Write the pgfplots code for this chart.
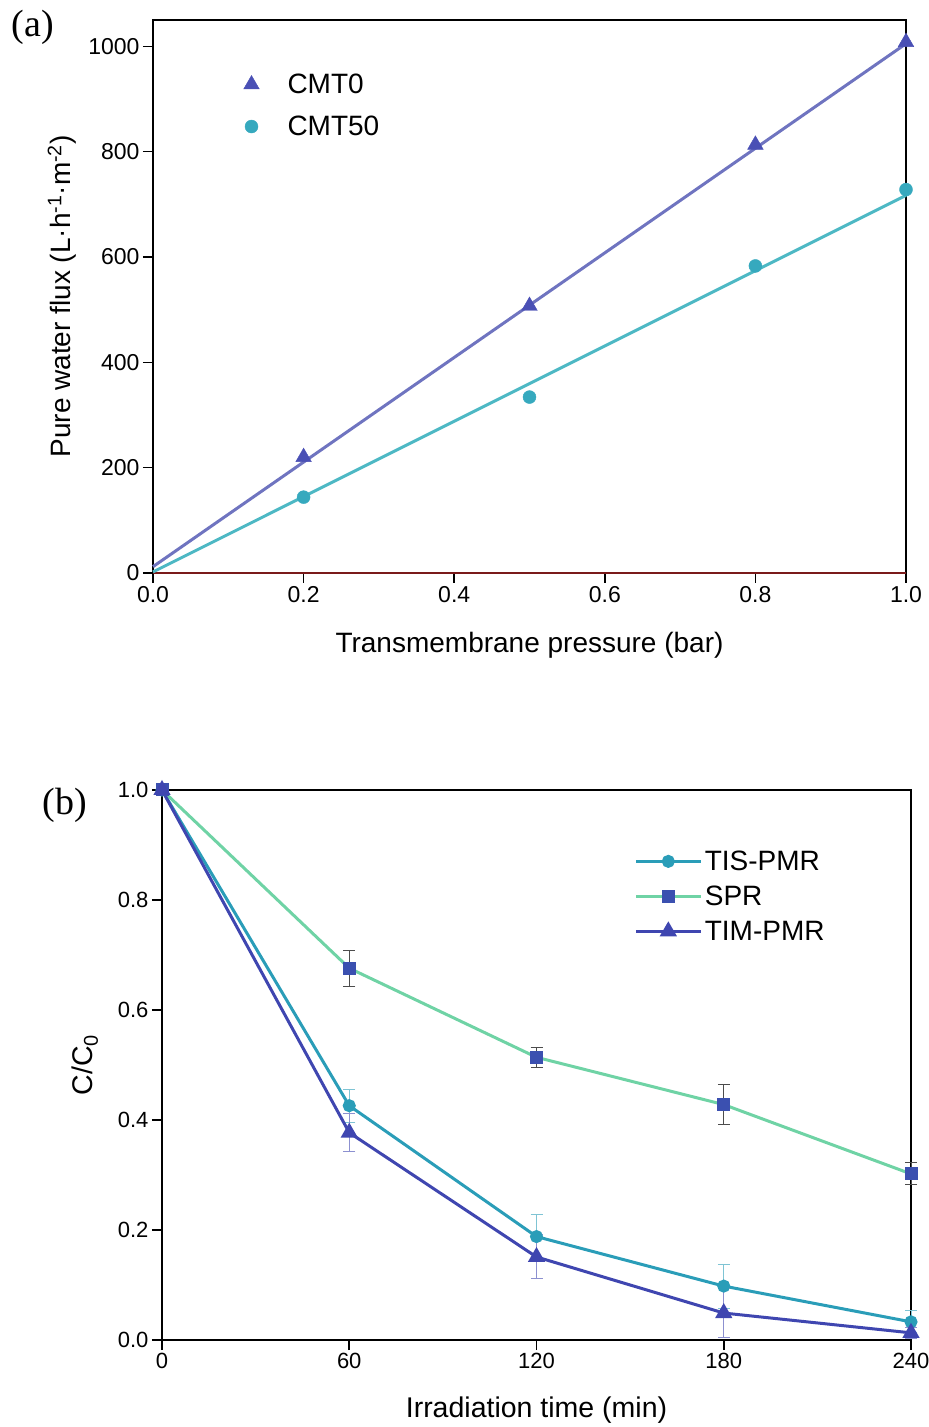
\documentclass[border=0pt]{standalone}
\usepackage{fontspec}
\setmainfont{Liberation Sans}
\newfontfamily\seriffont{Liberation Serif}
\usepackage{pgfplots}
\pgfplotsset{compat=1.18}
\definecolor{cmtzline}{HTML}{6F74C0}
\definecolor{cmtzmark}{HTML}{4A50B5}
\definecolor{cmtfline}{HTML}{4DB8C4}
\definecolor{cmtfmark}{HTML}{36A9BE}
\definecolor{tis}{HTML}{2A9DB8}
\definecolor{spr}{HTML}{6FD3A5}
\definecolor{sprmark}{HTML}{3B50B0}
\definecolor{tim}{HTML}{3F46B0}
\definecolor{zeroline}{HTML}{7A1A1A}
\pgfplotstableread{
x y
0.2 220
0.5 507
0.8 813
1.0 1008
}\cmtzero
\pgfplotstableread{
x y
0.2 144
0.5 334
0.8 583
1.0 728
}\cmtfifty
\pgfplotstableread{
x y ey
0 1.0 0
60 0.426 0.03
120 0.188 0.04
180 0.098 0.04
240 0.033 0.02
}\tis
\pgfplotstableread{
x y ey
0 1.0 0
60 0.676 0.033
120 0.514 0.018
180 0.428 0.036
240 0.302 0.02
}\spr
\pgfplotstableread{
x y ey
0 1.0 0
60 0.377 0.034
120 0.151 0.04
180 0.049 0.045
240 0.013 0.01
}\tim
\begin{document}
\begin{tikzpicture}[x=1pt,y=1pt]
\path[use as bounding box] (0,0) rectangle (929,1427);
\node[font=\seriffont\fontsize{38}{42}\selectfont] at (33,1400) {(a)};
\node[font=\seriffont\fontsize{38}{42}\selectfont] at (65,622) {(b)};
\begin{axis}[
  at={(153pt,854pt)}, anchor=south west, scale only axis,
  width=753pt, height=553pt,
  xmin=0, xmax=1, ymin=0, ymax=1050,
  axis line style={line width=1.6pt},
  tick align=outside, xtick pos=bottom, ytick pos=left,
  major tick length=10pt, tick style={line width=1.6pt, black},
  xtick={0,0.2,0.4,0.6,0.8,1.0},
  ytick={0,200,400,600,800,1000},
  xticklabel style={/pgf/number format/.cd, fixed, fixed zerofill, precision=1},
  /pgf/number format/assume math mode=true,
  /pgf/number format/1000 sep={},
  tick label style={font=\fontsize{23}{27}\selectfont},
  xlabel={Transmembrane pressure (bar)},
  ylabel={Pure water flux (L·h\textsuperscript{-1}·m\textsuperscript{-2})},
  label style={font=\fontsize{28}{32}\selectfont},
  xlabel style={at={(axis description cs:0.5,0)}, anchor=center, yshift=-72pt},
  ylabel style={at={(axis description cs:0,0.5)}, anchor=center, yshift=91pt},
  clip=false,
  legend style={at={(axis description cs:0.1,0.91)}, anchor=north west, draw=none, fill=none,
    font=\fontsize{28}{32}\selectfont, row sep=17pt},
  legend cell align=left,
  legend image code/.code={\path[mark repeat=2,mark phase=2,#1,draw=none] plot coordinates {(0pt,0pt) (20pt,0pt) (54pt,0pt)};},
]
\addplot[zeroline, line width=2pt, forget plot] coordinates {(0,0) (1,0)};
\addplot[cmtzline, line width=3pt, forget plot] coordinates {(0,12) (1,1005)};
\addplot[cmtfline, line width=3pt, forget plot] coordinates {(0,2) (1,717)};
\addplot[draw=none, mark=triangle*, mark size=9pt, mark options={draw=cmtzmark, fill=cmtzmark}] table {\cmtzero};
\addlegendentry{CMT0}
\addplot[draw=none, mark=*, mark size=6.5pt, mark options={draw=cmtfmark, fill=cmtfmark}] table {\cmtfifty};
\addlegendentry{CMT50}
\end{axis}
\begin{axis}[
  at={(162pt,87pt)}, anchor=south west, scale only axis,
  width=749pt, height=550pt,
  xmin=0, xmax=240, ymin=0, ymax=1.0,
  axis line style={line width=1.6pt},
  tick align=outside, xtick pos=bottom, ytick pos=left,
  major tick length=10pt, tick style={line width=1.6pt, black},
  xtick={0,60,120,180,240},
  ytick={0,0.2,0.4,0.6,0.8,1.0},
  yticklabel style={/pgf/number format/.cd, fixed, fixed zerofill, precision=1},
  /pgf/number format/assume math mode=true,
  tick label style={font=\fontsize{22}{26}\selectfont},
  xlabel={Irradiation time (min)},
  ylabel={C/C\textsubscript{0}},
  label style={font=\fontsize{28.5}{32}\selectfont},
  xlabel style={at={(axis description cs:0.5,0)}, anchor=center, yshift=-70pt},
  ylabel style={at={(axis description cs:0,0.5)}, anchor=center, yshift=77pt},
  clip=false,
  legend style={at={(axis description cs:0.627,0.897)}, anchor=north west, draw=none, fill=none,
    font=\fontsize{28}{32}\selectfont, row sep=10pt},
  legend cell align=left,
  legend image code/.code={\draw[mark repeat=2,mark phase=2,#1] plot coordinates {(0pt,0pt) (32pt,0pt) (65pt,0pt)};},
]
\addplot[tis, line width=3pt, mark=*, mark size=5pt, mark options={solid, fill=tis},
  error bars/.cd, y dir=both, y explicit,
  error bar style={color=tis!60, line width=1pt},
  error mark options={rotate=90, mark size=6pt, line width=1pt, color=tis!60}]
  table[x=x, y=y, y error=ey] {\tis};
\addlegendentry{TIS-PMR}
\addplot[spr, line width=3pt, mark=square*, mark size=5pt, mark options={solid, fill=sprmark, draw=sprmark},
  error bars/.cd, y dir=both, y explicit,
  error bar style={color=black!70, line width=1pt},
  error mark options={rotate=90, mark size=6pt, line width=1pt, color=black!70}]
  table[x=x, y=y, y error=ey] {\spr};
\addlegendentry{SPR}
\addplot[tim, line width=3pt, mark=triangle*, mark size=7pt, mark options={solid, fill=tim},
  error bars/.cd, y dir=both, y explicit,
  error bar style={color=tim!60, line width=1pt},
  error mark options={rotate=90, mark size=6pt, line width=1pt, color=tim!60}]
  table[x=x, y=y, y error=ey] {\tim};
\addlegendentry{TIM-PMR}
\end{axis}
\end{tikzpicture}
\end{document}
